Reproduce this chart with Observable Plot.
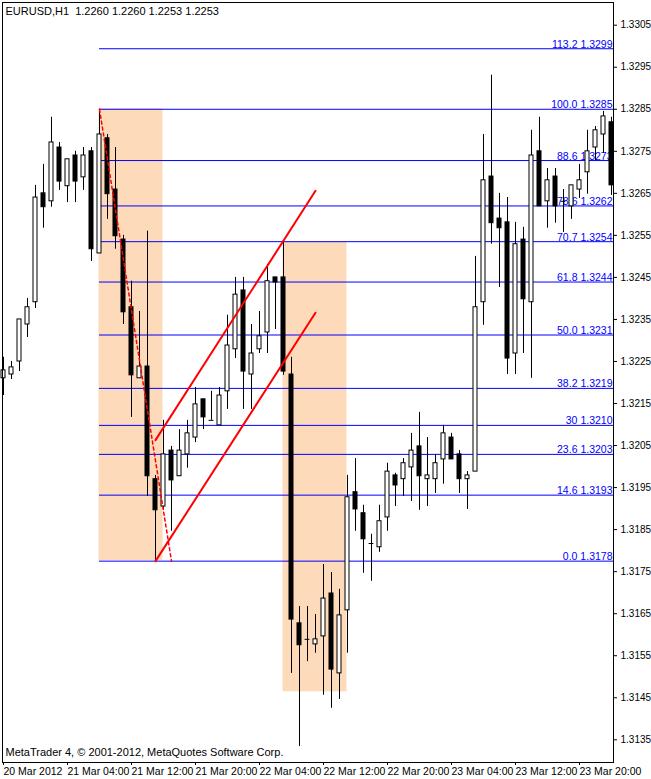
<!DOCTYPE html>
<html><head><meta charset="utf-8">
<script src="https://cdn.jsdelivr.net/npm/d3@7"></script>
<script src="https://cdn.jsdelivr.net/npm/@observablehq/plot@0.6"></script>
<style>body{margin:0;background:#fff} svg{display:block}</style>
</head><body><div id="chart"></div>
<script>
// ---- data (hourly bars, index 0 = 20 Mar 2012 20:00) ----
const open = [
1.32210,1.32219,1.32250,1.32338,1.32391,1.32650,1.32631,1.32759,1.32667,1.32740,
1.32688,1.32750,1.32507,1.32781,1.32659,1.32540,1.32379,1.32210,1.32238,1.31970,
1.31905,1.32038,1.31977,1.32029,1.32069,1.32160,1.32110,1.32098,1.32179,1.32279,
1.32419,1.32219,1.32279,1.32319,1.32450,1.32450,1.32219,1.31627,1.31589,1.31577,
1.31596,1.31698,1.31508,1.31658,1.31939,1.31889,1.31817,1.31808,1.31879,1.31979,
1.31970,1.31998,1.32048,1.31970,1.31970,1.32017,1.32069,1.32029,1.31970,1.31988,
1.32391,1.32690,1.32590,1.32581,1.32269,1.32540,1.32391,1.32750,1.32631,1.32690,
1.32631,1.32619,1.32659,1.32700,1.32759,1.32790,1.32819];
const high = [
1.32260,1.32250,1.32350,1.32400,1.32669,1.32719,1.32831,1.32771,1.32731,1.32750,
1.32759,1.32759,1.32850,1.32790,1.32759,1.32550,1.32441,1.32369,1.32560,1.31979,
1.32110,1.32048,1.32088,1.32110,1.32188,1.32160,1.32179,1.32188,1.32360,1.32450,
1.32450,1.32338,1.32369,1.32481,1.32450,1.32533,1.32260,1.31667,1.31667,1.31648,
1.31767,1.31748,1.31708,1.31979,1.32019,1.31908,1.31839,1.31908,1.32008,1.31984,
1.32019,1.32079,1.32129,1.32069,1.32029,1.32098,1.32079,1.32038,1.31988,1.32500,
1.32790,1.32931,1.32650,1.32640,1.32581,1.32569,1.32800,1.32831,1.32709,1.32709,
1.32659,1.32669,1.32719,1.32800,1.32809,1.32845,1.32831];
const low = [
1.32169,1.32207,1.32226,1.32307,1.32376,1.32567,1.32617,1.32657,1.32628,1.32628,
1.32657,1.32488,1.32507,1.32588,1.32517,1.32338,1.32117,1.32210,1.31929,1.31775,
1.31896,1.31846,1.31977,1.31996,1.32057,1.32088,1.32110,1.32098,1.32136,1.32257,
1.32136,1.32136,1.32269,1.32269,1.32326,1.32217,1.31508,1.31334,1.31536,1.31556,
1.31456,1.31425,1.31446,1.31556,1.31846,1.31746,1.31727,1.31796,1.31846,1.31905,
1.31929,1.31917,1.31896,1.31905,1.31936,1.31958,1.32017,1.31936,1.31898,1.31988,
1.32336,1.32529,1.32426,1.32219,1.32219,1.32269,1.32210,1.32619,1.32567,1.32579,
1.32557,1.32588,1.32638,1.32648,1.32728,1.32745,1.32645];
const close = [
1.32229,1.32236,1.32350,1.32379,1.32640,1.32617,1.32771,1.32678,1.32731,1.32678,
1.32740,1.32517,1.32790,1.32648,1.32548,1.32367,1.32217,1.32238,1.31977,1.31896,
1.32029,1.31967,1.32038,1.32079,1.32148,1.32117,1.32110,1.32169,1.32288,1.32409,
1.32226,1.32269,1.32310,1.32441,1.32438,1.32226,1.31636,1.31575,1.31589,1.31589,
1.31686,1.31517,1.31646,1.31927,1.31898,1.31827,1.31817,1.31870,1.31988,1.31955,
1.32008,1.32038,1.31977,1.31979,1.32008,1.32079,1.32017,1.31970,1.31979,1.32379,
1.32681,1.32579,1.32567,1.32257,1.32529,1.32398,1.32740,1.32619,1.32681,1.32619,
1.32631,1.32669,1.32681,1.32750,1.32800,1.32833,1.32669];

const timeTickBars = [0, 8, 16, 24, 32, 40, 48, 56, 64, 72];
const timeLabels = ["20 Mar 2012","21 Mar 04:00","21 Mar 12:00","21 Mar 20:00","22 Mar 04:00",
  "22 Mar 12:00","22 Mar 20:00","23 Mar 04:00","23 Mar 12:00","23 Mar 20:00"];
const priceTicks = [1.3135,1.3145,1.3155,1.3165,1.3175,1.3185,1.3195,1.3205,1.3215,
  1.3225,1.3235,1.3245,1.3255,1.3265,1.3275,1.3285,1.3295,1.3305];

// Fibonacci retracement (from bar 12 high to bar 19 low)
const fibRatios = ["0.0","14.6","23.6","30","38.2","50.0","61.8","70.7","78.6","88.6","100.0","113.2"];
const fibPrices = [1.31775,1.31932,1.32029,1.32098,1.32186,1.32313,1.32439,1.32535,1.32620,1.32728,1.32850,1.32994];
const fibPriceLabels = ["1.3178","1.3193","1.3203","1.3210","1.3219","1.3231","1.3244","1.3254","1.3262","1.3273","1.3285","1.3299"];
const fibStartBar = 12;
const fibBaseBars = [12, 21];
const fibBasePrices = [1.32850, 1.31775];

// shaded rectangles
const boxStart = [12, 35];
const boxEnd = [20, 43];
const boxTop = [1.32850, 1.32533];
const boxBottom = [1.31775, 1.31463];

// red parallel channel
const channelBars = [19, 39];
const channelUpper = [1.32063, 1.32656];
const channelLower = [1.31775, 1.32366];

const headerText = "EURUSD,H1  1.2260 1.2260 1.2253 1.2253";
const copyrightText = "MetaTrader 4, \u00a9 2001-2012, MetaQuotes Software Corp.";

// ---- build tables ----
const bars = open.map((o, i) => ({i, o, h: high[i], l: low[i], c: close[i]}));
const fib = fibRatios.map((r, k) => ({price: fibPrices[k], label: r + " " + fibPriceLabels[k]}));
const boxes = boxStart.map((s, k) => ({x1: s, x2: boxEnd[k], y1: boxBottom[k], y2: boxTop[k]}));
const fibBase = fibBaseBars.map((b, k) => ({x: b, y: fibBasePrices[k]}));
const channel = [
  ...channelBars.map((b, k) => ({x: b, y: channelUpper[k], line: "u"})),
  ...channelBars.map((b, k) => ({x: b, y: channelLower[k], line: "l"}))
];

const xMin = -0.125, xMax = 76.25;
const yMin = 1.31296, yMax = 1.33104;
const FONT = "'Liberation Sans Narrow','Arial Narrow','Liberation Sans',Arial,sans-serif";

const chart = Plot.plot({
  width: 651, height: 779,
  marginLeft: 2, marginRight: 38, marginTop: 2, marginBottom: 17,
  style: {fontFamily: FONT, background: "#fff", color: "#000"},
  x: {domain: [xMin, xMax], label: null},
  y: {domain: [yMin, yMax], label: null},
  marks: [
    Plot.rect(boxes, {x1: "x1", x2: "x2", y1: "y1", y2: "y2", fill: "#fddab9", dx: -0.5, dy: -0.5}),
    Plot.ruleY(fib, {y: "price", x1: fibStartBar, x2: xMax, stroke: "#0000ff"}),
    Plot.text(fib, {y: "price", text: "label", frameAnchor: "right", textAnchor: "end",
      lineAnchor: "bottom", dx: -1, dy: -1, fill: "#0000ff", fontSize: 10.5}),
    Plot.ruleX(bars, {x: "i", y1: "l", y2: "h", stroke: "#000"}),
    Plot.rect(bars.filter(d => d.c > d.o), {x1: d => d.i - 0.25, x2: d => d.i + 0.25, y1: "o", y2: "c", fill: "#fff", stroke: "#000"}),
    Plot.rect(bars.filter(d => d.c < d.o), {x1: d => d.i - 0.25, x2: d => d.i + 0.25, y1: "o", y2: "c", fill: "#000", stroke: "#000"}),
    Plot.ruleY(bars.filter(d => d.c === d.o), {y: "o", x1: d => d.i - 0.3, x2: d => d.i + 0.3, stroke: "#000"}),
    Plot.line(fibBase, {x: "x", y: "y", stroke: "#ff0000", strokeDasharray: "3,3"}),
    Plot.line(channel, {x: "x", y: "y", z: "line", stroke: "#ff0000", strokeWidth: 2}),
    Plot.frame({stroke: "#000"}),
    Plot.axisY(priceTicks, {anchor: "right", tickSize: 3, tickPadding: 4, label: null,
      tickFormat: d => d.toFixed(4), fontSize: 10}),
    Plot.axisX(timeTickBars, {anchor: "bottom", tickSize: 3, tickPadding: 2, label: null,
      tickFormat: d => timeLabels[timeTickBars.indexOf(d)], textAnchor: "start", dx: 0, fontSize: 10.5}),
    Plot.text([headerText], {frameAnchor: "top-left", lineAnchor: "middle", dx: 3, dy: 9, fontSize: 11}),
    Plot.text([copyrightText], {frameAnchor: "bottom-left", lineAnchor: "middle", dx: 3, dy: -10, fontSize: 11})
  ]
});
document.getElementById("chart").appendChild(chart);
</script>
</body></html>
